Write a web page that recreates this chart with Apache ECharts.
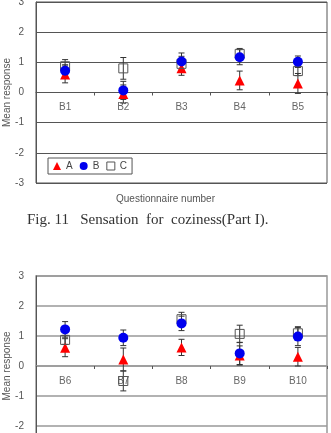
<!DOCTYPE html>
<html>
<head>
<meta charset="utf-8">
<script src="https://cdn.jsdelivr.net/npm/echarts@6/dist/echarts.min.js"></script>
<style>
  html, body { margin: 0; padding: 0; background: #fff; }
  #chart { width: 331px; height: 433px; }
</style>
</head>
<body>
<div id="chart"></div>
<script>
  // Part I (upper chart)
  var cats1 = ['B1', 'B2', 'B3', 'B4', 'B5'];
  var a1 = [0.6, -0.05, 0.8, 0.4, 0.3];
  var b1 = [0.72, 0.07, 1.03, 1.17, 1.02];
  var c1 = [0.87, 0.8, 0.95, 1.28, 0.71];
  var aErr1 = [0.28, 0.3, 0.23, 0.31, 0.33];
  var bErr1 = [0.2, 0.3, 0.28, 0.25, 0.19];
  var cErr1 = [0.22, 0.36, 0.25, 0.18, 0.15];

  // lower chart
  var cats2 = ['B6', 'B7', 'B8', 'B9', 'B10'];
  var a2 = [0.61, 0.22, 0.62, 0.35, 0.31];
  var b2 = [1.22, 0.94, 1.42, 0.42, 0.98];
  var c2 = [0.87, -0.5, 1.56, 1.07, 1.09];
  var aErr2 = [0.3, 0.38, 0.27, 0.32, 0.31];
  var bErr2 = [0.26, 0.26, 0.24, 0.37, 0.3];
  var cErr2 = [0.15, 0.33, 0.23, 0.29, 0.22];

  var yTicks = [-3, -2, -1, 0, 1, 2, 3];

  function bars(mean, err) {
    return mean.map(function (m, i) { return [i, m - err[i], m + err[i]]; });
  }

  function errItem(params, api) {
    var x = api.value(0);
    var top = api.coord([x, api.value(2)]);
    var bot = api.coord([x, api.value(1)]);
    var w = 3;
    var st = { stroke: '#333', lineWidth: 1 };
    return {
      type: 'group',
      children: [
        { type: 'line', shape: { x1: top[0], y1: top[1], x2: bot[0], y2: bot[1] }, style: st },
        { type: 'line', shape: { x1: top[0] - w, y1: top[1], x2: top[0] + w, y2: top[1] }, style: st },
        { type: 'line', shape: { x1: bot[0] - w, y1: bot[1], x2: bot[0] + w, y2: bot[1] }, style: st }
      ]
    };
  }

  // axis moved up onto the zero line with offset (grid height / 2)
  function xAx(idx, cats, off) {
    return {
      type: 'category', gridIndex: idx, data: cats, position: 'bottom', offset: off,
      axisLine: { onZero: false, lineStyle: { color: idx ? '#999' : '#555', width: idx ? 1.5 : 1 } },
      axisTick: { show: true, length: 3, alignWithLabel: false, lineStyle: { color: '#555' } },
      axisLabel: { color: '#666', fontSize: 10, margin: 10, fontFamily: 'Liberation Sans' },
      splitLine: { show: false }
    };
  }

  function yAx(idx) {
    return {
      type: 'value', gridIndex: idx, min: yTicks[0], max: yTicks[yTicks.length - 1], interval: 1,
      name: 'Mean response', nameLocation: 'middle', nameGap: 24, nameMoveOverlap: false,
      nameTextStyle: { color: '#555', fontSize: 10, fontFamily: 'Liberation Sans' },
      axisLine: { show: true, lineStyle: { color: '#555' } },
      axisTick: { show: false },
      axisLabel: { color: '#555', fontSize: 10, margin: 12, fontFamily: 'Liberation Sans' },
      splitLine: { show: true, lineStyle: { color: idx ? '#999' : '#555', width: idx ? 1.5 : 1 } }
    };
  }

  function makeSeries(idx, a, b, c, ae, be, ce) {
    var list = [];
    [[a, ae], [c, ce], [b, be]].forEach(function (p, k) {
      list.push({
        type: 'custom', name: 'err' + idx + k, xAxisIndex: idx, yAxisIndex: idx,
        renderItem: errItem, encode: { x: 0, y: [1, 2] }, z: 1,
        data: bars(p[0], p[1]), silent: true
      });
    });
    list.push({
      type: 'scatter', name: 'A', xAxisIndex: idx, yAxisIndex: idx, z: 3,
      symbol: 'triangle', symbolSize: 10, itemStyle: { color: '#ff0000', opacity: 1 }, data: a
    });
    list.push({
      type: 'scatter', name: 'C', xAxisIndex: idx, yAxisIndex: idx, z: 4,
      symbol: 'rect', symbolSize: 9,
      itemStyle: { color: 'rgba(255,255,255,0)', borderColor: '#555', borderWidth: 1, opacity: 1 }, data: c
    });
    list.push({
      type: 'scatter', name: 'B', xAxisIndex: idx, yAxisIndex: idx, z: 5,
      symbol: 'circle', symbolSize: 10, itemStyle: { color: '#0000ee', opacity: 1 }, data: b
    });
    return list;
  }

  var chart = echarts.init(document.getElementById('chart'));
  chart.setOption({
    animation: false,
    backgroundColor: '#fff',
    grid: [
      { left: 36, top: 2, width: 291, height: 181, show: true, borderColor: '#555', borderWidth: 1, outerBoundsMode: 'none', containLabel: false },
      { left: 36, top: 276, width: 291, height: 180, show: true, borderColor: '#999', borderWidth: 1.5, outerBoundsMode: 'none', containLabel: false }
    ],
    xAxis: [xAx(0, cats1, -90.5), xAx(1, cats2, -90)],
    yAxis: [yAx(0), yAx(1)],
    legend: {
      left: 48, top: 158, orient: 'horizontal',
      borderColor: '#555', borderWidth: 1, padding: [3, 5],
      itemWidth: 8, itemHeight: 8, itemGap: 7,
      itemStyle: { borderWidth: 1 },
      textStyle: { color: '#444', fontSize: 10, fontFamily: 'Liberation Sans' },
      data: [{ name: 'A', icon: 'triangle' }, { name: 'B', icon: 'circle' }, { name: 'C', icon: 'rect' }]
    },
    graphic: [
      { type: 'text', left: 'center', top: 194, style: { text: 'Questionnaire number', fill: '#555', fontSize: 10, fontFamily: 'Liberation Sans' } },
      { type: 'text', left: 27, top: 213, style: { text: 'Fig. 11   Sensation  for  coziness(Part I).', fill: '#333', fontSize: 15, fontFamily: 'Liberation Serif' } }
    ],
    series: makeSeries(0, a1, b1, c1, aErr1, bErr1, cErr1)
      .concat(makeSeries(1, a2, b2, c2, aErr2, bErr2, cErr2))
  });
</script>
</body>
</html>
